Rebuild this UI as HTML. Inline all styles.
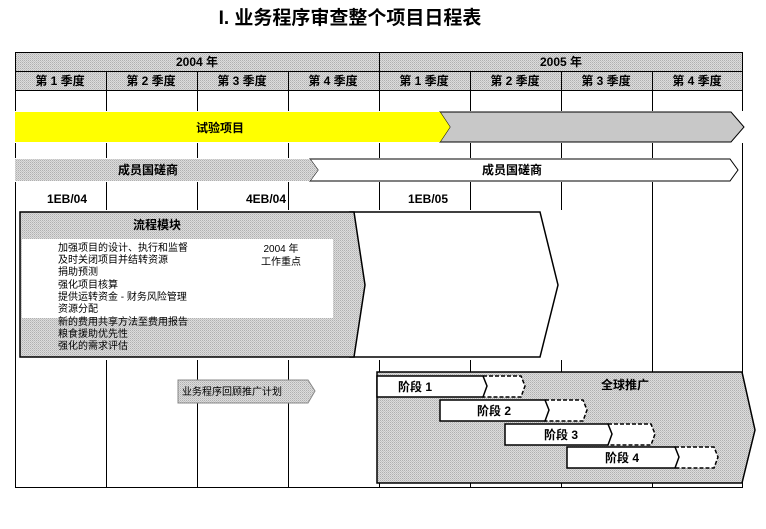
<!DOCTYPE html>
<html><head><meta charset="utf-8"><style>
body{margin:0;background:#fff;}
svg text{font-family:"Liberation Sans","Noto Sans CJK SC",sans-serif;}
</style></head><body>
<svg width="766" height="524" viewBox="0 0 766 524" xmlns="http://www.w3.org/2000/svg">
<defs>
<pattern id="g" width="2" height="2" patternUnits="userSpaceOnUse"><rect width="2" height="2" fill="#dcdcdc"/><rect width="1" height="1" fill="#b0b0b0"/><rect x="1" y="1" width="1" height="1" fill="#c4c4c4"/></pattern>
</defs>
<text x="350" y="24" font-size="19" font-weight="bold" text-anchor="middle" font-family="Liberation Serif,Noto Serif CJK SC,serif">I. 业务程序审查整个项目日程表</text>
<!-- header -->
<rect x="15" y="52" width="727" height="38" fill="url(#g)"/>
<g stroke="#000" stroke-width="1" fill="none">
<rect x="15.5" y="52.5" width="727" height="435"/>
<line x1="15" y1="71.5" x2="742" y2="71.5"/>
<line x1="15" y1="90.5" x2="742" y2="90.5"/>
<line x1="379.5" y1="52" x2="379.5" y2="487"/>
<line x1="106.5" y1="71" x2="106.5" y2="487"/>
<line x1="197.5" y1="71" x2="197.5" y2="487"/>
<line x1="288.5" y1="71" x2="288.5" y2="487"/>
<line x1="470.5" y1="71" x2="470.5" y2="487"/>
<line x1="561.5" y1="71" x2="561.5" y2="487"/>
<line x1="652.5" y1="71" x2="652.5" y2="487"/>
</g>
<g font-size="12" font-weight="bold" text-anchor="middle">
<text x="197" y="66">2004 年</text><text x="561" y="66">2005 年</text>
<text x="60" y="85">第 1 季度</text><text x="151" y="85">第 2 季度</text><text x="242" y="85">第 3 季度</text><text x="333" y="85">第 4 季度</text>
<text x="424" y="85">第 1 季度</text><text x="515" y="85">第 2 季度</text><text x="606" y="85">第 3 季度</text><text x="697" y="85">第 4 季度</text>
</g>
<!-- pilot arrow -->
<rect x="15" y="111" width="730" height="32" fill="#fff"/>
<polygon points="440,112 731,112 744,127 731,142 440,142 450,127" fill="#c8c8c8" stroke="#000"/>
<polygon points="15,112 440,112 450,127 440,142 15,142" fill="#ffff00"/>
<text x="220" y="132" font-size="12" font-weight="bold" text-anchor="middle">试验项目</text>
<!-- member arrow -->
<rect x="15" y="158" width="725" height="24" fill="#fff"/>
<polygon points="310,159 730,159 738,170 730,181 310,181 318,170" fill="#fff" stroke="#000"/>
<polygon points="15,159 310,159 318,170 310,181 15,181" fill="url(#g)"/>
<g font-size="12" font-weight="bold" text-anchor="middle">
<text x="148" y="174">成员国磋商</text><text x="512" y="174">成员国磋商</text>
<text x="67" y="203">1EB/04</text><text x="266" y="203">4EB/04</text><text x="428" y="203">1EB/05</text>
</g>
<!-- big chevrons -->
<rect x="18" y="210" width="545" height="150" fill="#fff"/>
<polygon points="350,212 540,212 558,285 540,357 350,357" fill="#fff" stroke="#000" stroke-width="1.5"/>
<polygon points="20,212 354,212 365,285 354,357 20,357" fill="url(#g)" stroke="#000" stroke-width="1.5"/>
<rect x="22" y="239" width="311" height="79" fill="#fff"/>
<text x="157" y="229" font-size="12" font-weight="bold" text-anchor="middle">流程模块</text>
<g font-size="10">
<text x="58" y="251">加强项目的设计、执行和监督</text>
<text x="58" y="263">及时关闭项目并结转资源</text>
<text x="58" y="275">捐助预测</text>
<text x="58" y="288">强化项目核算</text>
<text x="58" y="300">提供运转资金 - 财务风险管理</text>
<text x="58" y="312">资源分配</text>
<text x="58" y="325">新的费用共享方法至费用报告</text>
<text x="58" y="337">粮食援助优先性</text>
<text x="58" y="349">强化的需求评估</text>
<text x="281" y="252" text-anchor="middle">2004 年</text>
<text x="281" y="265" text-anchor="middle">工作重点</text>
</g>
<!-- review arrow -->
<polygon points="178,380 308,380 315,391 308,403 178,403" fill="url(#g)" stroke="#888"/>
<text x="182" y="395" font-size="10">业务程序回顾推广计划</text>
<!-- global rollout -->
<polygon points="377,372 742,372 755,430 742,483 377,483" fill="url(#g)" stroke="#000" stroke-width="1.5"/>
<text x="625" y="389" font-size="12" font-weight="bold" text-anchor="middle">全球推广</text>
<g stroke="#000" stroke-width="1.5">
<polygon points="483,376 521,376 525,386 521,397 483,397" fill="#fff" stroke-dasharray="4,2"/>
<polygon points="377,376 483,376 487,386 483,397 377,397" fill="#fff"/>
<polygon points="545,400 583,400 587,410 583,421 545,421" fill="#fff" stroke-dasharray="4,2"/>
<polygon points="440,400 545,400 549,410 545,421 440,421" fill="#fff"/>
<polygon points="608,424 651,424 655,434 651,445 608,445" fill="#fff" stroke-dasharray="4,2"/>
<polygon points="505,424 608,424 612,434 608,445 505,445" fill="#fff"/>
<polygon points="675,447 714,447 718,457 714,468 675,468" fill="#fff" stroke-dasharray="4,2"/>
<polygon points="567,447 675,447 679,457 675,468 567,468" fill="#fff"/>
</g>
<g font-size="12" font-weight="bold">
<text x="398" y="391">阶段 1</text><text x="477" y="415">阶段 2</text><text x="544" y="439">阶段 3</text><text x="605" y="462">阶段 4</text>
</g>
</svg>
</body></html>
